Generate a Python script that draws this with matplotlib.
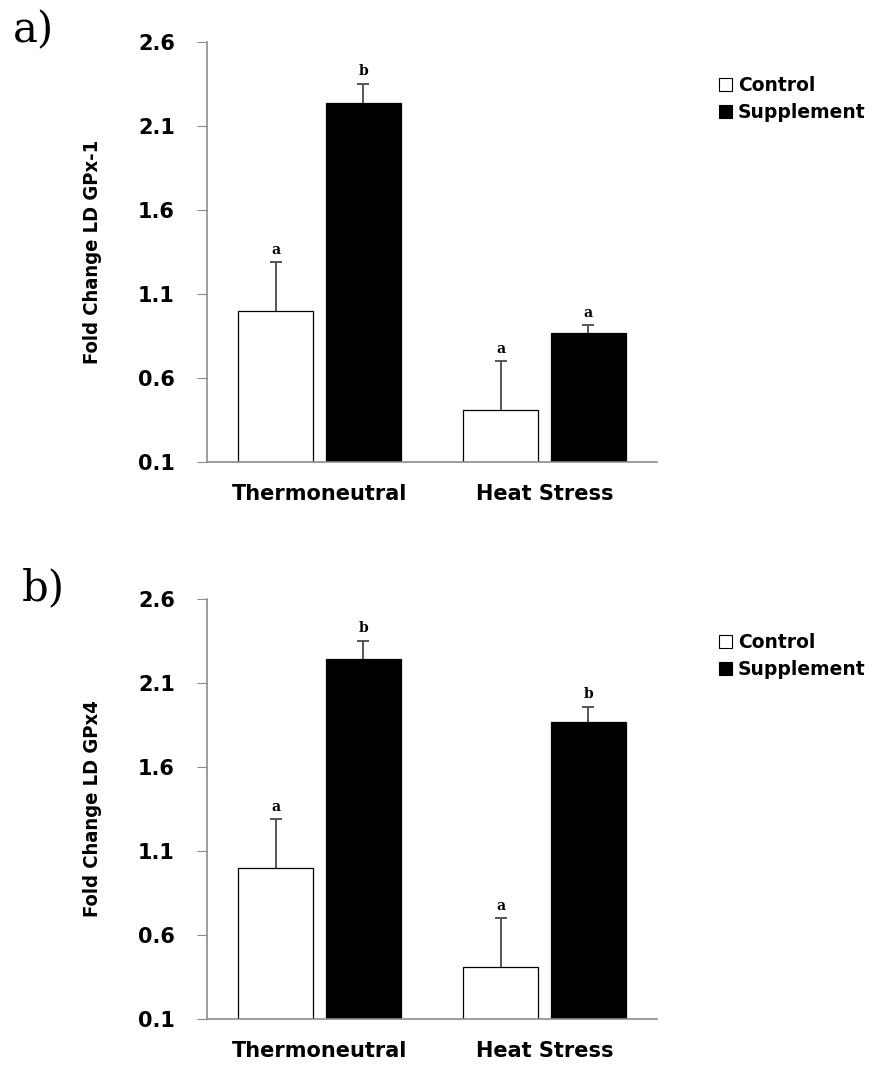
import numpy as np
import matplotlib
matplotlib.use("Agg")
import matplotlib.pyplot as plt
from matplotlib.patches import Patch

# data
groups = ["Thermoneutral", "Heat Stress"]
series = ["Control", "Supplement"]

gpx1_ctrl = [1.00, 0.41]
gpx1_ctrl_err = [0.29, 0.29]
gpx1_supp = [2.24, 0.87]
gpx1_supp_err = [0.11, 0.045]
gpx1_ctrl_letters = ["a", "a"]
gpx1_supp_letters = ["b", "a"]

gpx4_ctrl = [1.00, 0.41]
gpx4_ctrl_err = [0.29, 0.29]
gpx4_supp = [2.24, 1.87]
gpx4_supp_err = [0.11, 0.09]
gpx4_ctrl_letters = ["a", "a"]
gpx4_supp_letters = ["b", "b"]

yticks = [0.1, 0.6, 1.1, 1.6, 2.1, 2.6]

fig = plt.figure(figsize=(8.79, 10.67), dpi=100)
ax1 = fig.add_axes([0.2355, 0.567, 0.512, 0.3936])
ax2 = fig.add_axes([0.2355, 0.045, 0.512, 0.3936])

x = np.arange(len(groups))
w = 0.335
off = 0.195
axis_grey = "#8c8c8c"
err_col = "#555555"


def upper_err(ax, xs, vals, errs):
    tops = np.array(vals) + np.array(errs)
    ax.vlines(xs, vals, tops, color=err_col, linewidth=1.4, zorder=3)
    ax.plot(xs, tops, ls="none", marker="_", markersize=8, mew=1.4, color=err_col, zorder=3)


def draw_panel(ax, ctrl, ctrl_err, supp, supp_err, ctrl_let, supp_let, ylabel):
    ax.bar(x - off, ctrl, width=w, color="white", edgecolor="black", linewidth=0.9, zorder=2)
    ax.bar(x + off, supp, width=w, color="black", edgecolor="black", linewidth=0.9, zorder=2)
    upper_err(ax, x - off, ctrl, ctrl_err)
    upper_err(ax, x + off, supp, supp_err)
    for xi, v, e, t in zip(x - off, ctrl, ctrl_err, ctrl_let):
        ax.annotate(t, (xi, v + e), xytext=(0, 4), textcoords="offset points",
                    ha="center", va="bottom", fontsize=10, fontweight="bold", family="DejaVu Serif")
    for xi, v, e, t in zip(x + off, supp, supp_err, supp_let):
        ax.annotate(t, (xi, v + e), xytext=(0, 4), textcoords="offset points",
                    ha="center", va="bottom", fontsize=10, fontweight="bold", family="DejaVu Serif")

    ax.set_xlim(-0.5, 1.5)
    ax.set_ylim(0.1, 2.6)
    ax.set_yticks(yticks)
    ax.set_yticklabels([f"{t:.1f}" for t in yticks], fontsize=15, fontweight="bold")
    ax.set_xticks(x)
    ax.set_xticklabels(groups, fontsize=15, fontweight="bold")
    ax.tick_params(axis="x", length=0, pad=16)
    ax.tick_params(axis="y", length=7, color=axis_grey, pad=16)
    for s in ["top", "right"]:
        ax.spines[s].set_visible(False)
    for s in ["left", "bottom"]:
        ax.spines[s].set_color(axis_grey)
        ax.spines[s].set_linewidth(1.2)
    ax.set_ylabel(ylabel, fontsize=14.5, fontweight="semibold", fontstretch="condensed",
                  labelpad=26)
    handles = [Patch(facecolor="white", edgecolor="black", linewidth=0.8),
               Patch(facecolor="black", edgecolor="black", linewidth=0.8)]
    ax.legend(handles, series, loc="upper left", bbox_to_anchor=(1.10, 0.96), frameon=False,
              handlelength=0.7, handleheight=0.7, handletextpad=0.3, labelspacing=0.45,
              prop={"size": 13.5, "weight": "bold"})


draw_panel(ax1, gpx1_ctrl, gpx1_ctrl_err, gpx1_supp, gpx1_supp_err,
           gpx1_ctrl_letters, gpx1_supp_letters, "Fold Change LD GPx-1")
draw_panel(ax2, gpx4_ctrl, gpx4_ctrl_err, gpx4_supp, gpx4_supp_err,
           gpx4_ctrl_letters, gpx4_supp_letters, "Fold Change LD GPx4")

fig.text(13 / 879, 1 - 42 / 1067, "a)", fontsize=30, family="DejaVu Serif", va="baseline")
fig.text(22 / 879, 1 - 600 / 1067, "b)", fontsize=30, family="DejaVu Serif", va="baseline")

fig.savefig("out.png", dpi=100)
